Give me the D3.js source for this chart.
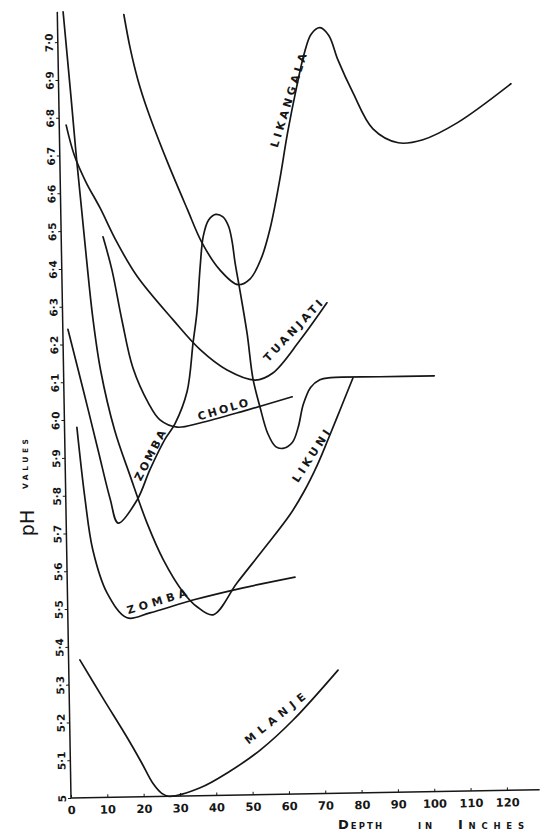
<!DOCTYPE html>
<html>
<head>
<meta charset="utf-8">
<style>
  body { margin: 0; background: #fff; }
  svg { display: block; background: #fff; }
  .curve { fill: none; stroke: #161616; stroke-width: 1.7px; stroke-linecap: round; stroke-linejoin: round; }
  .axis-line { stroke: #161616; stroke-width: 1.5px; }
  .tick text { font-family: 'DejaVu Sans', sans-serif; font-weight: bold; fill: #161616; }
  .tick line { stroke: #161616; stroke-width: 1px; }
  .lbl { font-family: 'DejaVu Sans', sans-serif; font-weight: bold; font-size: 11px; fill: #161616; }
</style>
</head>
<body>
<svg></svg>
<script src="https://cdnjs.cloudflare.com/ajax/libs/d3/7.8.5/d3.min.js"></script>
<script>
// depth (inches) / pH readings
const depthTicks = [0, 10, 20, 30, 40, 50, 60, 70, 80, 90, 100, 110, 120];
const phTicks = [5.0, 5.1, 5.2, 5.3, 5.4, 5.5, 5.6, 5.7, 5.8, 5.9, 6.0, 6.1, 6.2, 6.3, 6.4, 6.5, 6.6, 6.7, 6.8, 6.9, 7.0];
const phTickLabels = ['5', '5·1', '5·2', '5·3', '5·4', '5·5', '5·6', '5·7', '5·8', '5·9', '6·0',
                      '6·1', '6·2', '6·3', '6·4', '6·5', '6·6', '6·7', '6·8', '6·9', '7·0'];

const likangala = [[18.3, 7.07], [19.9, 6.98], [21.9, 6.895], [24.4, 6.815], [29.5, 6.68], [34.8, 6.553],
  [38.7, 6.463], [43.5, 6.39], [48.4, 6.35], [51.8, 6.365], [55.0, 6.42], [57.6, 6.5], [60.3, 6.62],
  [62.8, 6.75], [65.5, 6.87], [67.8, 6.96], [69.8, 7.01], [72.2, 7.026], [74.6, 7.005], [77.0, 6.94],
  [81.0, 6.852], [86.3, 6.756], [93.2, 6.718], [100.0, 6.725], [109.5, 6.768], [124.5, 6.869]];

const tuanjati = [[1.9, 6.78], [4.0, 6.70], [7.0, 6.63], [10.8, 6.56], [15.3, 6.468], [20.7, 6.377],
  [30.4, 6.26], [37.7, 6.18], [45.0, 6.125], [52.7, 6.097], [57.6, 6.115], [65.2, 6.2], [72.8, 6.298]];

const cholo = [[11.5, 6.483], [13.8, 6.395], [16.3, 6.262], [19.1, 6.135], [23.2, 6.041], [26.3, 5.996],
  [31.0, 5.976], [37.3, 5.986], [50.3, 6.018], [62.8, 6.051]];

const zombaUpper = [[1.4, 6.24], [5.3, 6.08], [9.1, 5.92], [12.2, 5.79], [14.3, 5.725], [19.6, 5.785],
  [23.3, 5.865], [27.6, 5.945], [30.4, 5.985], [33.9, 6.07], [35.8, 6.2], [37.0, 6.28], [38.1, 6.4],
  [39.1, 6.48], [40.6, 6.522], [42.6, 6.537], [44.6, 6.53], [46.1, 6.505], [47.0, 6.465], [47.7, 6.41],
  [49.0, 6.33], [50.7, 6.22], [52.1, 6.1], [53.9, 6.025], [55.9, 5.955], [58.0, 5.92], [60.0, 5.915],
  [62.6, 5.93], [64.3, 5.97], [65.8, 6.03], [67.9, 6.075], [70.5, 6.095], [73.5, 6.1], [87.0, 6.1],
  [102.0, 6.1]];

const zombaLower = [[3.4, 5.98], [5.3, 5.79], [7.2, 5.655], [10.9, 5.541], [16.3, 5.474], [22.6, 5.486],
  [34.5, 5.518], [48.4, 5.548], [62.7, 5.574]];

const likuni = [[1.6, 7.08], [3.4, 6.85], [4.6, 6.69], [5.8, 6.55], [6.9, 6.42], [8.3, 6.27], [10.2, 6.13],
  [13.8, 5.97], [17.8, 5.85], [22.2, 5.725], [26.6, 5.625], [31.8, 5.54], [35.6, 5.5], [40.0, 5.478],
  [46.7, 5.561], [54.0, 5.647], [61.6, 5.739], [65.6, 5.8], [69.4, 5.87], [72.4, 5.935], [75.9, 6.014],
  [79.6, 6.098]];

const mlanje = [[3.1, 5.365], [9.3, 5.262], [15.7, 5.158], [19.6, 5.09], [22.6, 5.035], [25.0, 5.008],
  [27.0, 5.0], [35.6, 5.021], [43.1, 5.059], [52.3, 5.118], [61.5, 5.196], [74.1, 5.326]];

const series = [likangala, tuanjati, cholo, zombaUpper, zombaLower, likuni, mlanje];

// curve names, placed along each curve
const curveLabels = [
  { text: 'LIKANGALA', at: [63.3, 6.835], angle: -71.6, len: 98 },
  { text: 'TUANJATI', at: [63.4, 6.225], angle: -45.5, len: 80 },
  { text: 'CHOLO', at: [43.7, 6.02], angle: -15.4, len: 52 },
  { text: 'ZOMBA', at: [23.5, 5.902], angle: -61.6, len: 55 },
  { text: 'ZOMBA', at: [24.6, 5.515], angle: -16, len: 62 },
  { text: 'LIKUNI', at: [67.8, 5.893], angle: -56.2, len: 60 },
  { text: 'MLANJE', at: [56.6, 5.2], angle: -37.7, len: 74 }
];

const svg = d3.select('svg').attr('width', 544).attr('height', 831);

const x = d3.scaleLinear().domain([0, 120]).range([71, 507]);
const y = d3.scaleLinear().domain([5, 7]).range([798, 42]);

// the original drawing sits a little askew on the page
const plot = svg.append('g').attr('transform', 'rotate(-1, 71, 798)');

// axes
plot.append('g')
  .attr('transform', `translate(${x(0)},0)`)
  .call(d3.axisLeft(y).tickValues(phTicks).tickSize(3).tickFormat((d, i) => phTickLabels[i]))
  .call(g => g.select('.domain').remove())
  .call(g => g.selectAll('.tick text')
    .attr('x', null).attr('dy', null)
    .attr('text-anchor', 'middle')
    .attr('dominant-baseline', 'central')
    .attr('font-size', 10.5)
    .attr('transform', 'translate(-9,0) rotate(-90)'));

plot.append('g')
  .attr('transform', `translate(0,${y(5)})`)
  .call(d3.axisBottom(x).tickValues(depthTicks).tickSize(-3).tickPadding(8))
  .call(g => g.select('.domain').remove())
  .call(g => g.selectAll('.tick text').attr('font-size', 11.5));

plot.append('line').attr('class', 'axis-line')
  .attr('x1', x(0)).attr('x2', x(0)).attr('y1', y(5)).attr('y2', y(7.08));
plot.append('line').attr('class', 'axis-line')
  .attr('x1', x(0)).attr('x2', x(129)).attr('y1', y(5)).attr('y2', y(5));

// curves
const line = d3.line()
  .x(d => x(d[0]))
  .y(d => y(d[1]))
  .curve(d3.curveCatmullRom.alpha(0.5));

plot.selectAll('.curve')
  .data(series)
  .enter().append('path')
  .attr('class', 'curve')
  .attr('d', line);

plot.selectAll('.lbl')
  .data(curveLabels)
  .enter().append('text')
  .attr('class', 'lbl')
  .attr('text-anchor', 'middle')
  .attr('dominant-baseline', 'central')
  .attr('textLength', d => d.len)
  .attr('lengthAdjust', 'spacing')
  .attr('transform', d => `translate(${x(d.at[0])},${y(d.at[1])}) rotate(${d.angle})`)
  .text(d => d.text);

// axis titles
svg.append('text')
  .attr('transform', 'translate(27,523) rotate(-90)')
  .attr('text-anchor', 'middle').attr('dominant-baseline', 'central')
  .attr('font-family', 'DejaVu Sans, sans-serif').attr('font-size', 19).attr('fill', '#161616')
  .text('pH');
svg.append('text')
  .attr('transform', 'translate(25,464) rotate(-90)')
  .attr('text-anchor', 'middle').attr('dominant-baseline', 'central')
  .attr('font-family', 'DejaVu Sans, sans-serif').attr('font-weight', 'bold')
  .attr('font-size', 7.5).attr('fill', '#161616')
  .attr('textLength', 50).attr('lengthAdjust', 'spacing')
  .text('VALUES');

const depthTitle = svg.append('g')
  .attr('font-family', 'DejaVu Sans, sans-serif').attr('font-weight', 'bold').attr('fill', '#161616');
[['D', 'EPTH', 338, 44], ['', 'IN', 418, 14], ['I', 'NCHES', 458, 66]].forEach(([big, small, x0, w]) => {
  const t = depthTitle.append('text').attr('x', x0).attr('y', 829)
    .attr('textLength', w).attr('lengthAdjust', 'spacing');
  if (big) t.append('tspan').attr('font-size', 13).text(big);
  t.append('tspan').attr('font-size', 8.5).text(small);
});
</script>
</body>
</html>
